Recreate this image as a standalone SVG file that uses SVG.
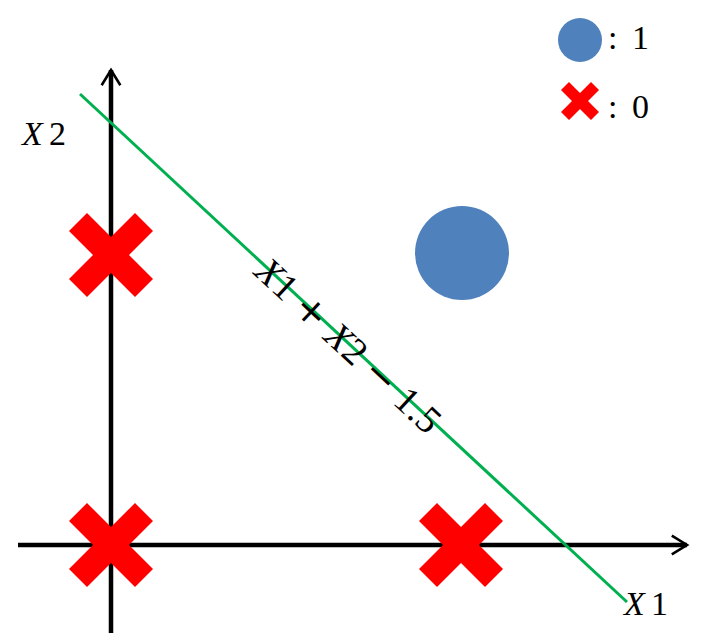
<svg xmlns="http://www.w3.org/2000/svg" width="713" height="634" viewBox="0 0 713 634">
<style>
.t{font-family:"Liberation Serif","DejaVu Serif",serif;font-size:34px;fill:#000}
.i{font-style:italic}
.op{font-family:"DejaVu Serif",serif}
.ax{stroke:#000;stroke-width:4.5;fill:none}
.cross{fill:#FF0000}
</style>
<defs>
<marker id="arr" viewBox="0 0 10 10" refX="8.5" refY="5" markerWidth="5.2" markerHeight="5.2" orient="auto" markerUnits="strokeWidth">
<path d="M2,1 L8.5,5 L2,9" fill="none" stroke="#000" stroke-width="1.1"/>
</marker>
<polygon id="x" points="0,-18 24,-42 42,-24 18,0 42,24 24,42 0,18 -24,42 -42,24 -18,0 -42,-24 -24,-42"/>
<polygon id="xs" points="0,-8 11,-19 19,-11 8,0 19,11 11,19 0,8 -11,19 -19,11 -8,0 -19,-11 -11,-19"/>
</defs>
<rect width="713" height="634" fill="#fff"/>
<g id="connectors">
<line class="ax" x1="18" y1="545" x2="687" y2="545" marker-end="url(#arr)"/>
<line class="ax" x1="111" y1="633" x2="111" y2="70" marker-end="url(#arr)"/>
<line x1="80" y1="94" x2="627" y2="602" stroke="#00B050" stroke-width="3"/>
</g>
<g id="axis-labels">
<text class="t" x="22" y="145" textLength="44" lengthAdjust="spacing"><tspan class="i">X</tspan>2</text>
<text class="t" x="624" y="615" textLength="44" lengthAdjust="spacing"><tspan class="i">X</tspan>1</text>
</g>
<g id="line-label">
<text class="t" style="font-size:38px" transform="translate(348,346) rotate(42.9)" x="-119" y="12" textLength="238" lengthAdjust="spacing"><tspan class="i">X</tspan>1 <tspan class="op">+</tspan> <tspan class="i">X</tspan>2 <tspan class="op">−</tspan> 1.5</text>
</g>
<g id="point-11"><circle cx="462" cy="253" r="47" fill="#4F81BD"/></g>
<g id="point-01"><use href="#x" x="111" y="255" class="cross"/></g>
<g id="point-00"><use href="#x" x="111" y="545" class="cross"/></g>
<g id="point-10"><use href="#x" x="461" y="545" class="cross"/></g>
<g id="legend">
<circle cx="580" cy="40" r="22" fill="#4F81BD"/>
<text class="t" x="608" y="49" textLength="41" lengthAdjust="spacing">: 1</text>
<use href="#xs" x="580" y="101" class="cross"/>
<text class="t" x="608" y="118" textLength="41" lengthAdjust="spacing">: 0</text>
</g>
</svg>
